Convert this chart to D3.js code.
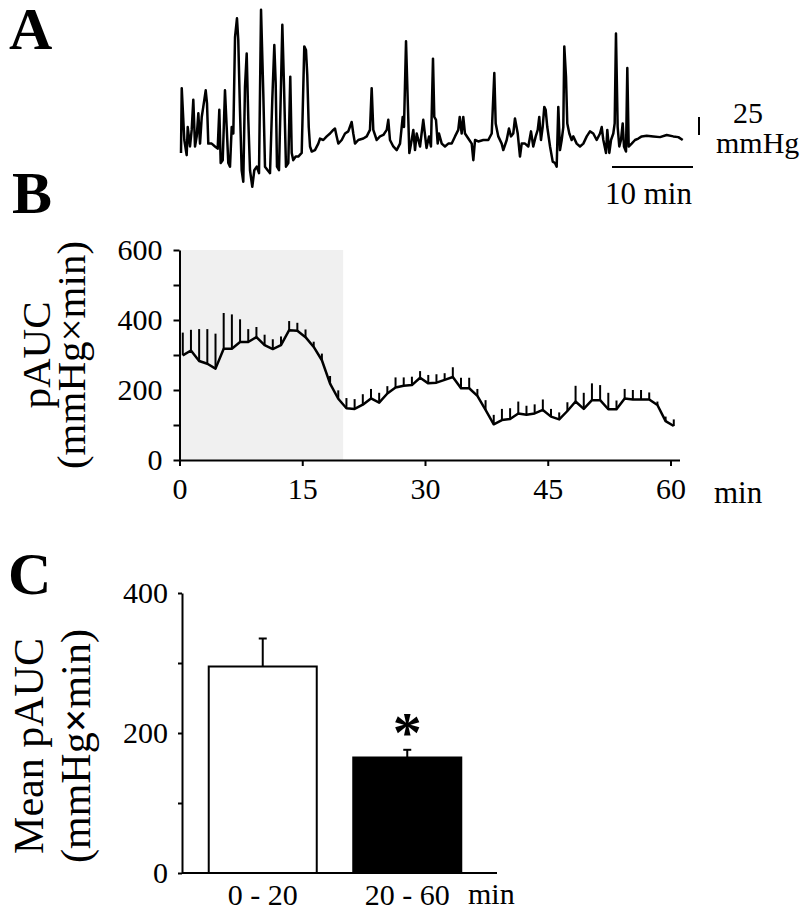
<!DOCTYPE html>
<html>
<head>
<meta charset="utf-8">
<script src="https://cdn.jsdelivr.net/npm/d3@7"></script>
<style>
  body { margin: 0; background: #fff; }
  svg { display: block; }
  .axis path, .axis line { stroke: #000; stroke-width: 2; }
</style>
</head>
<body>
<svg width="807" height="911"></svg>
<script>
// ---- panel A: raw pressure trace (minutes, mmHg relative to baseline) ----
const traceMin = [
  0.00,0.09,0.41,0.70,0.83,1.11,1.32,1.52,1.73,1.94,
  2.14,2.35,2.56,2.75,3.05,3.21,3.37,3.79,4.20,4.53,
  4.73,4.90,5.15,5.43,5.64,5.84,6.05,6.26,6.46,6.67,
  6.91,7.07,7.28,7.49,7.69,7.90,8.11,8.31,8.52,8.80,
  9.05,9.35,9.63,9.88,10.16,10.37,10.70,10.99,11.27,11.52,
  11.69,11.85,12.10,12.35,12.51,12.72,12.96,13.25,13.49,13.67,
  13.86,14.16,14.48,14.90,15.22,15.43,15.59,15.77,15.93,16.14,
  16.54,16.95,17.16,17.57,17.99,18.40,18.80,19.01,19.22,19.42,
  19.84,20.25,20.65,21.07,21.27,21.48,21.89,22.51,22.93,23.33,
  23.54,23.74,24.16,24.57,24.98,25.40,25.59,25.80,26.21,26.63,
  27.04,27.37,27.53,27.78,27.99,28.19,28.48,28.68,28.89,29.10,
  29.51,29.91,30.31,30.62,30.86,31.11,31.27,31.48,31.69,31.85,
  32.19,32.59,33.00,33.42,33.83,34.23,34.41,34.65,34.85,35.06,
  35.47,35.89,36.09,36.30,36.70,37.32,37.94,38.36,38.68,38.85,
  39.17,39.59,39.79,40.21,40.49,40.74,41.02,41.23,41.57,41.85,
  42.06,42.47,42.88,43.21,43.49,43.79,44.04,44.23,44.44,44.65,
  44.85,45.02,45.22,45.56,45.89,46.17,46.38,46.58,46.79,47.00,
  47.20,47.32,47.53,47.69,47.94,48.23,48.43,48.85,49.26,49.67,
  50.09,50.49,50.90,51.32,51.73,51.94,52.14,52.47,52.63,52.88,
  53.09,53.37,53.54,53.70,53.91,54.11,54.32,54.53,54.69,54.94,
  55.10,55.27,55.64,56.05,56.46,56.88,57.49,58.31,59.14,59.96,
  60.78,61.40,61.94
];
const traceMmHg = [
  -18,72,0,-21,18,-9,14,56,-9,5,
  37,-5,32,46,69,51,-5,-5,-9,-12,
  42,-32,-28,69,18,-32,-37,18,9,143,
  169,139,42,-42,-58,74,120,28,-42,-65,
  -42,-37,-46,181,65,-37,-42,-46,56,132,
  79,-37,-42,79,160,74,-37,-32,88,-18,
  -28,-23,-23,-18,130,125,90,18,-9,-16,
  -14,-5,2,0,5,9,14,16,5,-5,
  0,9,12,25,9,-5,0,2,5,14,
  72,14,0,5,7,14,28,0,-9,-14,
  -5,32,18,137,56,-18,0,14,-14,9,
  -9,28,-11,5,-9,113,32,28,-5,9,
  -5,-9,-5,-5,5,14,32,9,32,9,
  2,-5,-28,0,-2,0,0,9,93,23,
  5,-5,-14,0,16,5,9,30,9,-23,
  -5,-5,-9,12,-9,5,14,32,0,18,
  46,42,18,-9,-30,-32,-37,46,-14,0,
  18,130,88,23,9,0,5,-5,-9,-5,
  5,12,9,0,9,18,0,-18,14,-18,
  0,9,23,148,18,-9,0,23,-9,-16,
  100,-9,-5,0,2,5,6,5,4,7,
  5,4,0
];
const scaleBarMin = 10;
const scaleBarMmHg = 25;

// ---- panel B: pAUC per minute (mean and SE) ----
const bMinutes = d3.range(61);
const bMean = [
  299,313,283,275,261,318,318,337,337,351,
  328,317,328,371,369,351,323,285,218,175,
  148,146,158,176,164,190,207,212,214,235,
  219,221,229,237,205,205,183,143,102,114,
  117,133,129,133,143,124,116,140,167,146,
  171,171,145,145,176,173,173,173,157,111,
  97
];
const bSE = [
  65,59,91,99,100,102,98,65,37,29,
  30,28,25,26,23,22,15,19,22,24,
  29,28,30,27,28,21,29,24,24,19,
  24,24,19,28,30,30,20,28,27,32,
  31,34,26,26,30,22,20,25,45,46,
  48,43,47,25,27,27,27,20,10,13,
  19
];
const bShadeEnd = 20;
const bYTicks = [0, 100, 200, 300, 400, 500, 600];
const bXTicks = [0, 15, 30, 45, 60];

// ---- panel C: mean pAUC per period ----
const cPeriods = ["0 - 20", "20 - 60"];
const cMean = [295, 165];
const cSE = [40, 11];
const cFill = ["#fff", "#000"];
const cYTicks = [0, 100, 200, 300, 400];

const FONT = '"Liberation Serif"';
const svg = d3.select("svg");

function label(x, y, size, txt) {
  return svg.append("text").attr("x", x).attr("y", y)
    .style("font-family", FONT).style("font-size", size + "px").text(txt);
}
function panelLabel(txt, x, y) {
  label(x, y, 60, txt).style("font-weight", "bold");
}
panelLabel("A", 9, 49);
panelLabel("B", 12, 213);
panelLabel("C", 8, 594);

// ================= A =================
const xA = d3.scaleLinear().domain([0, 62]).range([181, 683.2]);
const yA = d3.scaleLinear().domain([0, 25]).range([140, 122]);

const traceLine = d3.line()
  .x((d, i) => xA(traceMin[i]))
  .y(d => yA(d));

svg.append("path")
  .datum(traceMmHg)
  .attr("d", traceLine)
  .attr("fill", "none")
  .attr("stroke", "#000")
  .attr("stroke-width", 2.5)
  .attr("stroke-linejoin", "round");

// vertical scale bar (25 mmHg)
svg.append("line")
  .attr("x1", 699).attr("x2", 699)
  .attr("y1", yA(7)).attr("y2", yA(7 + scaleBarMmHg))
  .attr("stroke", "#000").attr("stroke-width", 2);
label(733, 123, 30, scaleBarMmHg);
label(716, 153, 30, "mmHg");

// horizontal scale bar (10 min)
const sbX0 = 612;
svg.append("line")
  .attr("x1", sbX0).attr("x2", sbX0 + xA(scaleBarMin) - xA(0))
  .attr("y1", 167).attr("y2", 167)
  .attr("stroke", "#000").attr("stroke-width", 2);
label(605, 204, 31, scaleBarMin + " min");

// ================= B =================
const xB = d3.scaleLinear().domain([0, 60]).range([179.5, 670.5]);
const yB = d3.scaleLinear().domain([0, 600]).range([460, 250]);
const bOffset = 0.4;

svg.append("rect")
  .attr("x", xB(0)).attr("y", yB(600))
  .attr("width", xB(bShadeEnd) - xB(0))
  .attr("height", yB(0) - yB(600))
  .attr("fill", "#f0f0f0");

// error bars (upper only)
svg.append("g").selectAll("line")
  .data(bMinutes)
  .join("line")
  .attr("x1", d => xB(d + bOffset)).attr("x2", d => xB(d + bOffset))
  .attr("y1", d => yB(bMean[d])).attr("y2", d => yB(bMean[d] + bSE[d]))
  .attr("stroke", "#000").attr("stroke-width", 2);

svg.append("path")
  .datum(bMinutes)
  .attr("d", d3.line().x(d => xB(d + bOffset)).y(d => yB(bMean[d])))
  .attr("fill", "none").attr("stroke", "#000").attr("stroke-width", 2.5)
  .attr("stroke-linejoin", "round");

const xBAxisScale = xB.copy().domain([0, 61.1]).range([179.5, xB(61.1)]);
svg.append("g").attr("class", "axis")
  .attr("transform", `translate(0,${yB(0)})`)
  .call(d3.axisBottom(xBAxisScale).tickValues(bXTicks).tickSize(6).tickSizeOuter(0).tickPadding(12));

svg.append("g").attr("class", "axis")
  .attr("transform", `translate(${xB(0)},0)`)
  .call(d3.axisLeft(yB).tickValues(bYTicks).tickSize(6).tickSizeOuter(0).tickPadding(11)
    .tickFormat(d => d % 200 === 0 ? d : ""));

label(714, 503, 31, "min");

label(0, 0, 41, "pAUC").attr("transform", "translate(50,355) rotate(-90)")
  .attr("text-anchor", "middle");
label(0, 0, 41, "(mmHg×min)").attr("transform", "translate(85,355) rotate(-90)")
  .attr("text-anchor", "middle");

// ================= C =================
const xC = d3.scaleBand().domain(cPeriods).range([182, 488]).paddingInner(0.2526).paddingOuter(0.185);
const yC = d3.scaleLinear().domain([0, 400]).range([873, 593]);

svg.append("g").selectAll("rect")
  .data(cPeriods)
  .join("rect")
  .attr("x", d => xC(d)).attr("width", xC.bandwidth())
  .attr("y", (d, i) => yC(cMean[i]))
  .attr("height", (d, i) => yC(0) - yC(cMean[i]))
  .attr("fill", (d, i) => cFill[i])
  .attr("stroke", "#000").attr("stroke-width", 2);

const errC = svg.append("g").selectAll("g").data(cPeriods).join("g");
errC.append("line")
  .attr("x1", d => xC(d) + xC.bandwidth() / 2).attr("x2", d => xC(d) + xC.bandwidth() / 2)
  .attr("y1", (d, i) => yC(cMean[i])).attr("y2", (d, i) => yC(cMean[i] + cSE[i]))
  .attr("stroke", "#000").attr("stroke-width", 2);
errC.append("line")
  .attr("x1", d => xC(d) + xC.bandwidth() / 2 - 4).attr("x2", d => xC(d) + xC.bandwidth() / 2 + 4)
  .attr("y1", (d, i) => yC(cMean[i] + cSE[i])).attr("y2", (d, i) => yC(cMean[i] + cSE[i]))
  .attr("stroke", "#000").attr("stroke-width", 2);

label(xC(cPeriods[1]) + xC.bandwidth() / 2, yC(cMean[1] + cSE[1]) + 2, 58, "*")
  .attr("text-anchor", "middle").style("font-weight", "bold");

svg.append("g").attr("class", "axis")
  .attr("transform", `translate(0,${yC(0)})`)
  .call(d3.axisBottom(xC).tickSize(0).tickSizeOuter(0).tickPadding(11))
  .call(g => g.select(".domain").attr("d", `M182,0H497`));

svg.append("g").attr("class", "axis")
  .attr("transform", `translate(182,0)`)
  .call(d3.axisLeft(yC).tickValues(cYTicks).tickSize(4).tickSizeOuter(0).tickPadding(10)
    .tickFormat(d => d % 200 === 0 ? d : ""));

label(468, 904, 30, "min");

label(0, 0, 42, "Mean pAUC").attr("transform", "translate(43,746) rotate(-90)")
  .attr("text-anchor", "middle");
const cTitle2 = label(0, 0, 42, null).attr("transform", "translate(90,746) rotate(-90)")
  .attr("text-anchor", "middle");
cTitle2.append("tspan").text("(mmHg");
cTitle2.append("tspan").style("font-weight", "bold").text("×");
cTitle2.append("tspan").text("min)");

// axis tick labels in the figure font
svg.selectAll(".axis text")
  .style("font-family", FONT).style("font-size", "30px").attr("fill", "#000");
</script>
</body>
</html>
